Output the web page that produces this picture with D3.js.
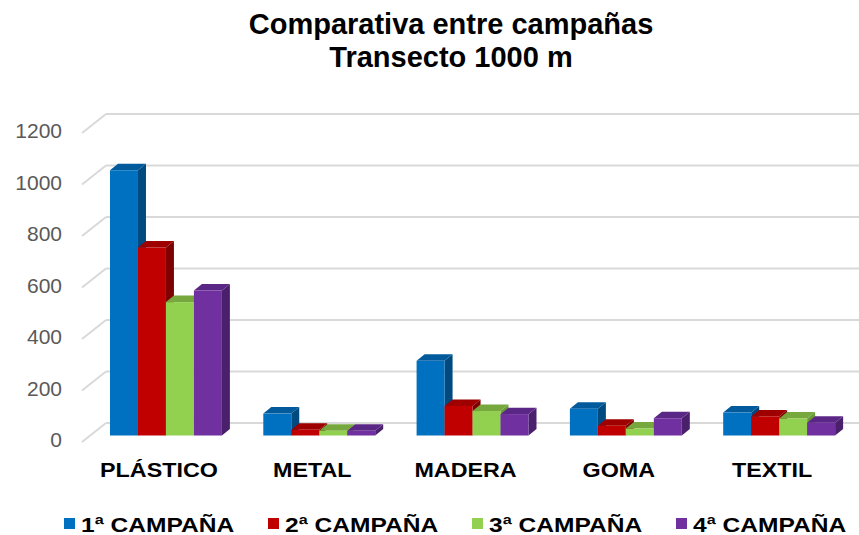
<!DOCTYPE html>
<html>
<head>
<meta charset="utf-8">
<script src="https://cdn.jsdelivr.net/npm/d3@7"></script>
<style>
  body { margin: 0; background: #fff; }
  svg { display: block; font-family: "Liberation Sans", Arial, sans-serif; }
</style>
</head>
<body>
<svg width="859" height="535"></svg>
<script>
var categories = ["PLÁSTICO", "METAL", "MADERA", "GOMA", "TEXTIL"];
var series = ["1ª CAMPAÑA", "2ª CAMPAÑA", "3ª CAMPAÑA", "4ª CAMPAÑA"];
var campana1 = [1030, 85, 290, 104, 89];
var campana2 = [730, 22, 115, 38, 74];
var campana3 = [518, 18, 95, 27, 66];
var campana4 = [563, 18, 83, 67, 50];
var yTicks = [0, 200, 400, 600, 800, 1000, 1200];

var frontCol = ["#0070C0", "#C00000", "#92D050", "#7030A0"],
    topCol = ["#005A9C", "#9E0000", "#76A83E", "#5B2787"],
    sideCol = ["#004A80", "#7F0000", "#6A9A38", "#4A1F6B"];

var svg = d3.select("svg");

// depth offsets (fake 3d)
var wallDx = 24, wallDy = -19,   // left wall / floor depth
    barShift = 6.5,              // bars sit a bit behind the floor front
    barDx = 8, barDy = -6.5;     // bar thickness

var x0 = d3.scaleBand()
    .domain(categories)
    .range([89.3, 855.8])
    .paddingInner(0.27)
    .paddingOuter(0.135);

var x1 = d3.scaleBand()
    .domain(series)
    .range([0, x0.bandwidth()]);

// scale on the plane of the bar fronts
var y = d3.scaleLinear().domain([0, 1200]).range([435.5, 126.5]);
function yFloor(v) { return y(v) + barShift; }

var data = categories.map(function(c, i) {
  return {
    cat: c,
    values: [campana1[i], campana2[i], campana3[i], campana4[i]].map(function(v, j) {
      return {s: series[j], j: j, value: v};
    })
  };
});

// gridlines: left wall diagonal + back wall
var wallLeft = 82;
var grid = svg.append("g").attr("class", "grid");
grid.selectAll(".diag")
  .data(yTicks)
  .enter().append("line")
    .attr("x1", wallLeft)
    .attr("y1", function(d) { return yFloor(d); })
    .attr("x2", wallLeft + wallDx)
    .attr("y2", function(d) { return yFloor(d) + wallDy; })
    .attr("stroke", "#D9D9D9")
    .attr("stroke-width", 2);
grid.selectAll(".back")
  .data(yTicks)
  .enter().append("line")
    .attr("x1", wallLeft + wallDx)
    .attr("y1", function(d) { return yFloor(d) + wallDy; })
    .attr("x2", 859)
    .attr("y2", function(d) { return yFloor(d) + wallDy; })
    .attr("stroke", "#D9D9D9")
    .attr("stroke-width", 2);

// y labels
svg.append("g").selectAll("text")
  .data(yTicks)
  .enter().append("text")
    .attr("x", 62)
    .attr("y", function(d) { return yFloor(d) - 2; })
    .attr("dy", "0.35em")
    .attr("text-anchor", "end")
    .attr("fill", "#595959")
    .style("font-size", "21px")
    .text(function(d) { return d; });

// bars
var group = svg.selectAll(".cat")
  .data(data)
  .enter().append("g")
    .attr("class", "cat")
    .attr("transform", function(d) { return "translate(" + x0(d.cat) + ",0)"; });

var bar = group.selectAll(".bar")
  .data(function(d) { return d.values; })
  .enter().append("g")
    .attr("class", "bar");

var w = x1.bandwidth();

bar.append("path")
    .attr("fill", function(d) { return sideCol[d.j]; })
    .attr("d", function(d) {
      var bx = x1(d.s) + w, yt = y(d.value), yb = y(0);
      return "M" + bx + "," + yt + "L" + (bx + barDx) + "," + (yt + barDy) +
             "L" + (bx + barDx) + "," + (yb + barDy) + "L" + bx + "," + yb + "Z";
    });

bar.append("path")
    .attr("fill", function(d) { return topCol[d.j]; })
    .attr("d", function(d) {
      var bx = x1(d.s), yt = y(d.value);
      return "M" + bx + "," + yt + "L" + (bx + barDx) + "," + (yt + barDy) +
             "L" + (bx + w + barDx) + "," + (yt + barDy) + "L" + (bx + w) + "," + yt + "Z";
    });

bar.append("rect")
    .attr("x", function(d) { return x1(d.s); })
    .attr("y", function(d) { return y(d.value); })
    .attr("width", w)
    .attr("height", function(d) { return y(0) - y(d.value); })
    .attr("fill", function(d) { return frontCol[d.j]; });

// category labels
svg.append("g").selectAll("text")
  .data(categories)
  .enter().append("text")
    .attr("transform", function(d) {
      return "translate(" + (x0(d) + x0.bandwidth() / 2 - 7) + ",477) scale(1.11,1)";
    })
    .attr("text-anchor", "middle")
    .style("font-size", "21px")
    .style("font-weight", "bold")
    .text(function(d) { return d; });

// title
var title = svg.append("text")
    .attr("text-anchor", "middle")
    .style("font-size", "29px")
    .style("font-weight", "bold");
title.append("tspan").attr("x", 451).attr("y", 34).text("Comparativa entre campañas");
title.append("tspan").attr("x", 451).attr("y", 67).text("Transecto 1000 m");

// legend
var legend = svg.append("g").selectAll("g")
  .data(series)
  .enter().append("g")
    .attr("transform", function(d, i) { return "translate(" + (64 + i * 204) + ",518)"; });

legend.append("rect")
    .attr("width", 11)
    .attr("height", 11)
    .attr("fill", function(d, i) { return frontCol[i]; });

legend.append("text")
    .attr("transform", "translate(17,13.5) scale(1.17,1)")
    .style("font-size", "21px")
    .style("font-weight", "bold")
    .text(function(d) { return d; });
</script>
</body>
</html>
